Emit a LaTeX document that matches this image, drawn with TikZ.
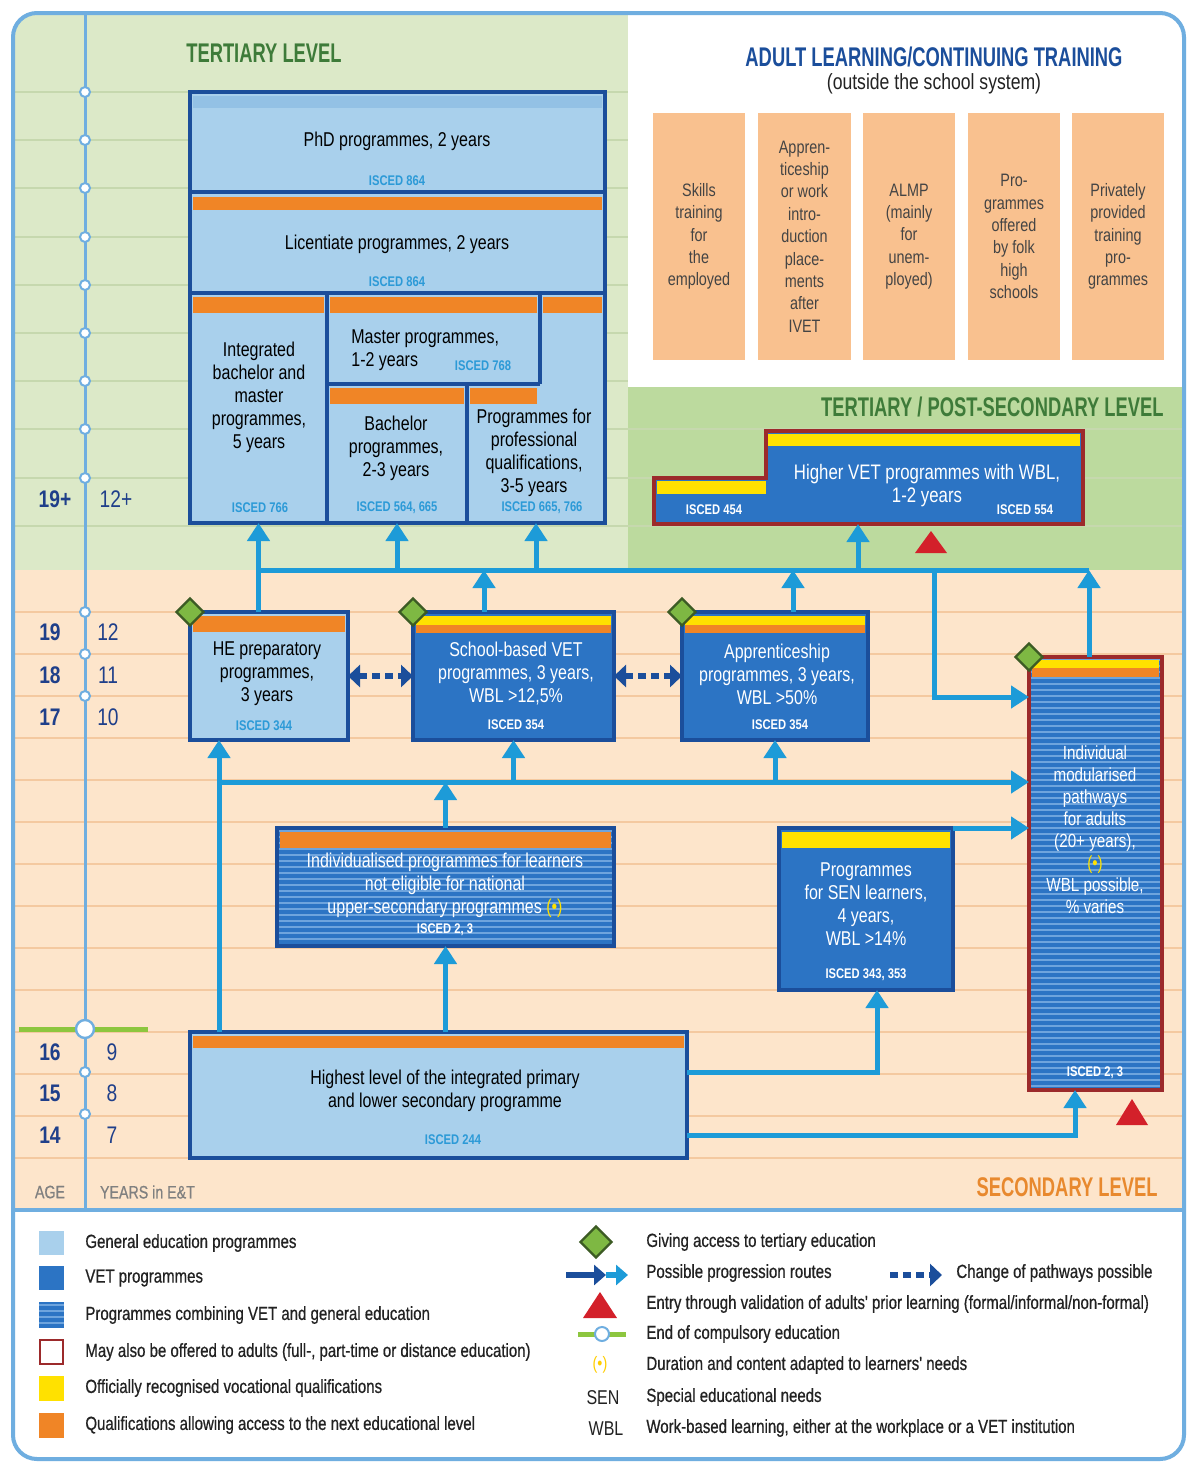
\documentclass[tikz,border=0pt]{standalone}
\usepackage{fontspec}
\setmainfont[FakeStretch=0.8]{Liberation Sans}
\newfontfamily\tfont[FakeStretch=0.68]{Liberation Sans}
\newfontfamily\lfont[FakeStretch=0.79,FakeBold=0.6]{Liberation Sans}
\usetikzlibrary{arrows.meta,fit,shapes.geometric}
\definecolor{tgreen}{HTML}{DCE9C8}
\definecolor{pgreen}{HTML}{BCDA9E}
\definecolor{peach}{HTML}{FDE5CB}
\definecolor{gline}{HTML}{C6D8AE}
\definecolor{pline}{HTML}{F4C9A0}
\definecolor{frameblue}{HTML}{6FAEE0}
\definecolor{lblue}{HTML}{A9D0EC}
\definecolor{phdstrip}{HTML}{93C1E5}
\definecolor{dblue}{HTML}{1B4E9B}
\definecolor{vblue}{HTML}{2C74C4}
\definecolor{sblue}{HTML}{6EA4DD}
\definecolor{orangeq}{HTML}{F08526}
\definecolor{yellowq}{HTML}{FFE100}
\definecolor{arrowb}{HTML}{1D9BD8}
\definecolor{dred}{HTML}{9C2A2B}
\definecolor{redtri}{HTML}{D3202A}
\definecolor{dgreen}{HTML}{3E7B39}
\definecolor{diafill}{HTML}{7EB843}
\definecolor{diadraw}{HTML}{3C5B24}
\definecolor{adultbox}{HTML}{F9C18F}
\definecolor{isced}{HTML}{2C9AD7}
\definecolor{agecol}{HTML}{1F3F8A}
\definecolor{greenline}{HTML}{8DC63F}
\definecolor{secor}{HTML}{E8892E}
\definecolor{txtgrey}{HTML}{444444}
\definecolor{legtxt}{HTML}{222222}
\newcommand\stripebox[4]{%
  \fill[vblue] (#1,#2) rectangle (#3,#4);
  \pgfmathtruncatemacro\nstr{(#4-#2-4)/6}
  \foreach \k in {0,...,\nstr} {\draw[sblue,line width=1.1pt] (#1,{#2+3+6*\k}) -- (#3,{#2+3+6*\k});}
}
\begin{document}
\begin{tikzpicture}[x=0.5pt,y=-0.5pt,
  hid/.style={inner sep=0pt,outer sep=0pt},
  gbox/.style={draw=dblue,line width=2pt,fill=lblue,inner sep=0pt,outer sep=0pt},
  vbox/.style={draw=dblue,line width=2pt,fill=vblue,inner sep=0pt,outer sep=0pt},
  bord/.style={draw=dblue,line width=2pt,inner sep=0pt,outer sep=0pt},
  rbord/.style={draw=dred,line width=1.6pt,inner sep=0pt,outer sep=0pt},
  btxt/.style={align=center,font=\fontsize{10}{11.5}\selectfont,text=black,inner sep=0pt},
  wtxt/.style={btxt,text=white},
  isc/.style={font=\fontsize{7}{8}\selectfont\bfseries,text=isced,inner sep=0pt},
  iscw/.style={isc,text=white},
  flow/.style={draw=arrowb,line width=2.5pt,-{Triangle[width=11pt,length=9pt]}},
  flowline/.style={draw=arrowb,line width=2.5pt},
  chg/.style={draw=dblue,line width=3pt,dash pattern=on 4pt off 2.5pt,{Triangle[width=11pt,length=6pt]}-{Triangle[width=11pt,length=6pt]}},
  diam/.style={diamond,draw=diadraw,fill=diafill,line width=1.2pt,minimum width=14pt,minimum height=14pt,inner sep=0pt},
  adult/.style={fill=adultbox,inner sep=0pt,outer sep=0pt},
  atxt/.style={align=center,font=\fontsize{9}{11.2}\selectfont,text=txtgrey,inner sep=0pt},
  age/.style={font=\fontsize{12}{14}\selectfont\bfseries,text=agecol},
  yrs/.style={font=\fontsize{12}{14}\selectfont,text=agecol},
  ttl/.style={font=\tfont\bfseries\fontsize{13.5}{15}\selectfont,inner sep=0pt},
  leg/.style={anchor=west,font=\lfont\fontsize{9.5}{11}\selectfont,text=legtxt,inner sep=0pt},
  circ/.style={circle,draw=frameblue,fill=white,line width=1pt,minimum size=5pt,inner sep=0pt},
  bigcirc/.style={circle,draw=frameblue,fill=white,line width=1.2pt,minimum size=9pt,inner sep=0pt}]
\useasboundingbox (0,0) rectangle (1187,1463);
\fill[white] (0,0) rectangle (1187,1463);
% ---------- backgrounds ----------
\begin{scope}
\clip[rounded corners=12pt] (13,13) rectangle (1184,1459);
\fill[tgreen] (13,13) rectangle (628,570);
\fill[white] (628,13) rectangle (1184,387);
\fill[pgreen] (628,387) rectangle (1184,570);
\fill[peach] (13,570) rectangle (1184,1210);
\fill[white] (13,1210) rectangle (1184,1459);
\foreach \yy in {92,140,188,237,285,333,381} {\draw[gline,line width=1pt] (13,\yy) -- (628,\yy);}
\foreach \yy in {429,478,526} {\draw[gline,line width=1pt] (13,\yy) -- (1184,\yy);}
\foreach \yy in {612,654,696,738,780,822,864,906,948,990,1032,1074,1116,1158} {\draw[pline,line width=1pt] (13,\yy) -- (1184,\yy);}
\end{scope}
% age axis
\draw[frameblue,line width=1.5pt] (85,13) -- (85,1210);
\foreach \yy [count=\i] in {92,140,188,237,285,333,381,429,478,612,654,696,1072,1114} {\node[circ] (c\i) at (85,\yy) {};}
\draw[greenline,line width=2.5pt] (19,1029) -- (148,1029);
\node[bigcirc] (cend) at (85,1029) {};
\node[age] (a19p) at (55,499) {19+};
\node[yrs] (y12p) at (116,499) {12+};
\node[age] (a19) at (50,632) {19};
\node[yrs] (y12) at (108,632) {12};
\node[age] (a18) at (50,675) {18};
\node[yrs] (y11) at (108,675) {11};
\node[age] (a17) at (50,717) {17};
\node[yrs] (y10) at (108,717) {10};
\node[age] (a16) at (50,1052) {16};
\node[yrs] (y9) at (112,1052) {9};
\node[age] (a15) at (50,1093) {15};
\node[yrs] (y8) at (112,1093) {8};
\node[age] (a14) at (50,1135) {14};
\node[yrs] (y7) at (112,1135) {7};
\node[font=\lfont\fontsize{9}{10}\selectfont,text=gray] (agel) at (50,1192) {AGE};
\node[font=\lfont\fontsize{9}{10}\selectfont,text=gray,anchor=west] (yrsl) at (93,1192) {YEARS in E\&T};
% titles
\node[ttl,text=dgreen] (t1) at (264,53) {TERTIARY LEVEL};
\node[ttl,text=dblue] (t2) at (934,57) {ADULT LEARNING/CONTINUING TRAINING};
\node[font=\fontsize{11}{13}\selectfont,text=legtxt,inner sep=0pt] (t2b) at (934,84) {(outside the school system)};
\node[ttl,text=dgreen,anchor=east] (t3) at (1164,407) {TERTIARY / POST-SECONDARY LEVEL};
\node[ttl,text=secor,anchor=east] (t4) at (1158,1187) {SECONDARY LEVEL};
% ---------- tertiary block ----------
\node[gbox,fit={(190,92)(605,523)}] (tert) {};
\fill[phdstrip] (193,96) rectangle (602,108);
\draw[dblue,line width=2pt] (190,192) -- (605,192) (190,293) -- (605,293) (327,293) -- (327,523)
  (327,384) -- (540,384) (540,293) -- (540,384) (467,384) -- (467,523);
\fill[orangeq] (193,197) rectangle (602,210);
\fill[orangeq] (193,297) rectangle (324,313);
\fill[orangeq] (330,297) rectangle (537,313);
\fill[orangeq] (543,297) rectangle (602,313);
\fill[orangeq] (330,388) rectangle (464,404);
\fill[orangeq] (470,388) rectangle (537,404);
\node[hid,fit={(190,92)(605,192)}] (phd) {};
\node[hid,fit={(190,192)(605,293)}] (lic) {};
\node[hid,fit={(190,293)(327,523)}] (integ) {};
\node[hid,fit={(327,293)(540,384)}] (master) {};
\node[hid,fit={(327,384)(467,523)}] (bach) {};
\node[hid,fit={(467,384)(605,523)}] (prof) {};
\node[btxt] (phdT) at (397,141) {PhD programmes, 2 years};
\node[isc] (phdI) at (397,181) {ISCED 864};
\node[btxt] (licT) at (397,244) {Licentiate programmes, 2 years};
\node[isc] (licI) at (397,282) {ISCED 864};
\node[btxt] (integT) at (259,397) {Integrated\\bachelor and\\master\\programmes,\\5 years};
\node[isc] (integI) at (260,508) {ISCED 766};
\node[btxt,align=left,anchor=west] (masterT) at (351,350) {Master programmes,\\1-2 years};
\node[isc] (masterI) at (483,366) {ISCED 768};
\node[btxt] (bachT) at (396,448) {Bachelor\\programmes,\\2-3 years};
\node[isc] (bachI) at (397,508) {ISCED 564, 665};
\node[btxt] (profT) at (534,453) {Programmes for\\professional\\qualifications,\\3-5 years};
\node[isc] (profI) at (542,508) {ISCED 665, 766};
% ---------- adult learning ----------
\node[adult,fit={(653,113)(745,360)}] (ad1) {};
\node[adult,fit={(758,113)(851,360)}] (ad2) {};
\node[adult,fit={(863,113)(955,360)}] (ad3) {};
\node[adult,fit={(968,113)(1060,360)}] (ad4) {};
\node[adult,fit={(1072,113)(1164,360)}] (ad5) {};
\node[atxt] (ad1t) at (ad1.center) {Skills\\training\\for\\the\\employed};
\node[atxt] (ad2t) at (ad2.center) {Appren-\\ticeship\\or work\\intro-\\duction\\place-\\ments\\after\\IVET};
\node[atxt] (ad3t) at (ad3.center) {ALMP\\(mainly\\for\\unem-\\ployed)};
\node[atxt] (ad4t) at (ad4.center) {Pro-\\grammes\\offered\\by folk\\high\\schools};
\node[atxt] (ad5t) at (ad5.center) {Privately\\provided\\training\\pro-\\grammes};
% ---------- higher VET ----------
\fill[vblue] (654,478) -- (766,478) -- (766,431) -- (1083,431) -- (1083,524) -- (654,524) -- cycle;
\fill[yellowq] (768,434) rectangle (1080,446);
\fill[yellowq] (657,481) rectangle (766,494);
\draw[dred,line width=1.6pt] (654,478) -- (766,478) -- (766,431) -- (1083,431) -- (1083,524) -- (654,524) -- cycle;
\node[hid,fit={(654,431)(1083,524)}] (hvet) {};
\node[wtxt,font=\fontsize{10.5}{11.5}\selectfont] (hvetT) at (927,486) {Higher VET programmes with WBL,\\1-2 years};
\node[iscw] (hvetI1) at (714,510) {ISCED 454};
\node[iscw] (hvetI2) at (1025,510) {ISCED 554};
\fill[redtri] (931,531) -- (947,553) -- (915,553) -- cycle;
% ---------- secondary boxes ----------
\node[gbox,fit={(190,612)(348,740)}] (he) {};
\fill[orangeq] (193,616) rectangle (345,632);
\node[btxt] (heT) at (267,674) {HE preparatory\\programmes,\\3 years};
\node[isc] (heI) at (264,726) {ISCED 344};
\node[vbox,fit={(413,612)(614,740)}] (svet) {};
\fill[yellowq] (416,616) rectangle (611,625);
\fill[orangeq] (416,625) rectangle (611,633);
\node[wtxt] (svetT) at (516,674) {School-based VET\\programmes, 3 years,\\WBL >12,5\%};
\node[iscw] (svetI) at (516,725) {ISCED 354};
\node[vbox,fit={(682,612)(868,740)}] (app) {};
\fill[yellowq] (685,616) rectangle (865,625);
\fill[orangeq] (685,625) rectangle (865,633);
\node[wtxt] (appT) at (777,674) {Apprenticeship\\programmes, 3 years,\\WBL >50\%};
\node[iscw] (appI) at (780,725) {ISCED 354};
\stripebox{277}{828}{614}{946}
\node[bord,fit={(277,828)(614,946)}] (indiv) {};
\fill[orangeq] (280,832) rectangle (611,848);
\node[wtxt] (indivT) at (445,885) {Individualised programmes for learners\\not eligible for national\\upper-secondary programmes {\color{yellowq}(\textbullet)}};
\node[iscw] (indivI) at (445,930) {ISCED 2, 3};
\node[vbox,fit={(779,828)(953,990)}] (sen) {};
\fill[yellowq] (782,832) rectangle (950,848);
\node[wtxt] (senT) at (866,904) {Programmes\\for SEN learners,\\4 years,\\WBL >14\%};
\node[iscw] (senI) at (866,975) {ISCED 343, 353};
\stripebox{1029}{657}{1162}{1090}
\node[rbord,fit={(1029,657)(1162,1090)}] (imod) {};
\fill[yellowq] (1032,660) rectangle (1159,668);
\fill[orangeq] (1032,668) rectangle (1159,677);
\node[wtxt,font=\fontsize{9.5}{11}\selectfont] (imodT) at (1095,830) {Individual\\modularised\\pathways\\for adults\\(20+ years),\\{\color{yellowq}(\textbullet)}\\WBL possible,\\\% varies};
\node[iscw] (imodI) at (1095,1073) {ISCED 2, 3};
\fill[redtri] (1132,1099) -- (1148,1125) -- (1116,1125) -- cycle;
\node[gbox,fit={(190,1032)(687,1158)}] (lsec) {};
\fill[orangeq] (193,1036) rectangle (684,1048);
\node[btxt] (lsecT) at (445,1091) {Highest level of the integrated primary\\and lower secondary programme};
\node[isc] (lsecI) at (453,1140) {ISCED 244};
% ---------- connectors ----------
\coordinate (busL) at (258.5,570);
\coordinate (busR) at (1089,570);
\coordinate (busTap) at (934,570);
\coordinate (hvetIn) at (858,524);
\coordinate (svetOut) at (484,612);
\coordinate (appOut) at (793,612);
\coordinate (imodA) at (1029,697);
\coordinate (heIn) at (219,740);
\coordinate (midL) at (219,782);
\coordinate (l1) at (687,1072);
\coordinate (senIn) at (877,990);
\coordinate (l2) at (687,1135);
\coordinate (imodIn) at (1075,1090);
\draw[flowline] (busL) -- (busR);
\draw[flow] (he.north -| integ.south) -- (integ.south);
\draw[flow] (bach.south |- busL) -- (bach.south);
\draw[flow] (prof.south |- busL) -- (prof.south);
\draw[flow] (hvetIn |- busL) -- (hvetIn);
\draw[flow] (svetOut) -- (svetOut |- busL);
\draw[flow] (appOut) -- (appOut |- busL);
\draw[flow] (imod.north -| busR) -- (busR);
\draw[flow] (busTap) |- (imodA);
\draw[flow] (lsec.north -| heIn) -- (heIn);
\draw[flow] (midL) -- (midL -| imod.west);
\draw[flow] (svet.south |- midL) -- (svet.south);
\draw[flow] (app.south |- midL) -- (app.south);
\draw[flow] (indiv.north) -- (indiv.north |- midL);
\draw[flow] (lsec.north -| indiv.south) -- (indiv.south);
\draw[flow] (sen.north east) -- (sen.north east -| imod.west);
\draw[flow] (l1) -| (senIn);
\draw[flow] (l2) -| (imodIn);
\draw[chg] (he.east) -- (svet.west);
\draw[chg] (svet.east) -- (app.west);
% diamonds
\node[diam] (d1) at (he.north west) {};
\node[diam] (d2) at (svet.north west) {};
\node[diam] (d3) at (app.north west) {};
\node[diam] (d4) at (imod.north west) {};
% ---------- legend ----------
\fill[lblue] (39,1231) rectangle (64,1255);
\fill[vblue] (39,1266) rectangle (64,1290);
\stripebox{39}{1302}{64}{1328}
\draw[dred,line width=1.2pt] (40,1340) rectangle (63,1364);
\fill[yellowq] (39,1376) rectangle (64,1401);
\fill[orangeq] (39,1413) rectangle (64,1438);
\node[leg] (lg1) at (85,1243) {General education programmes};
\node[leg] (lg2) at (85,1278) {VET programmes};
\node[leg] (lg3) at (85,1315) {Programmes combining VET and general education};
\node[leg] (lg4) at (85,1352) {May also be offered to adults (full-, part-time or distance education)};
\node[leg] (lg5) at (85,1388) {Officially recognised vocational qualifications};
\node[leg] (lg6) at (85,1425) {Qualifications allowing access to the next educational level};
\node[diam,minimum width=16pt,minimum height=16pt] (ld) at (596,1242) {};
\coordinate (la1) at (566,1275);
\coordinate (la2) at (606,1275);
\coordinate (la3) at (628,1275);
\draw[dblue,line width=3pt,-{Triangle[width=10pt,length=6pt]}] (la1) -- (la2);
\draw[arrowb,line width=3pt,-{Triangle[width=10pt,length=6pt]}] (la2) -- (la3);
\coordinate (lc1) at (890,1275);
\coordinate (lc2) at (942,1275);
\draw[dblue,line width=3pt,dash pattern=on 4pt off 2.5pt,-{Triangle[width=11pt,length=6pt]}] (lc1) -- (lc2);
\fill[redtri] (600,1292) -- (617,1318) -- (583,1318) -- cycle;
\draw[greenline,line width=2.5pt] (578,1334) -- (626,1334);
\node[circ,minimum size=7pt] (lcirc) at (602,1334) {};
\node[font=\fontsize{9}{10}\selectfont,text=yellowq!80!orange] (lbul) at (600,1365) {(\textbullet)};
\node[font=\fontsize{10}{11}\selectfont,text=legtxt] (lsen) at (603,1398) {SEN};
\node[font=\fontsize{10}{11}\selectfont,text=legtxt] (lwbl) at (606,1429) {WBL};
\node[leg] (lr1) at (646,1242) {Giving access to tertiary education};
\node[leg] (lr2) at (646,1273) {Possible progression routes};
\node[leg] (lr2b) at (956,1273) {Change of pathways possible};
\node[leg] (lr3) at (646,1304) {Entry through validation of adults' prior learning (formal/informal/non-formal)};
\node[leg] (lr4) at (646,1334) {End of compulsory education};
\node[leg] (lr5) at (646,1365) {Duration and content adapted to learners' needs};
\node[leg] (lr6) at (646,1397) {Special educational needs};
\node[leg] (lr7) at (646,1428) {Work-based learning, either at the workplace or a VET institution};
% frame
\draw[frameblue,line width=2pt] (13,1210) -- (1184,1210);
\draw[frameblue,line width=2pt,rounded corners=12pt] (13,13) rectangle (1184,1459);
\end{tikzpicture}
\end{document}
